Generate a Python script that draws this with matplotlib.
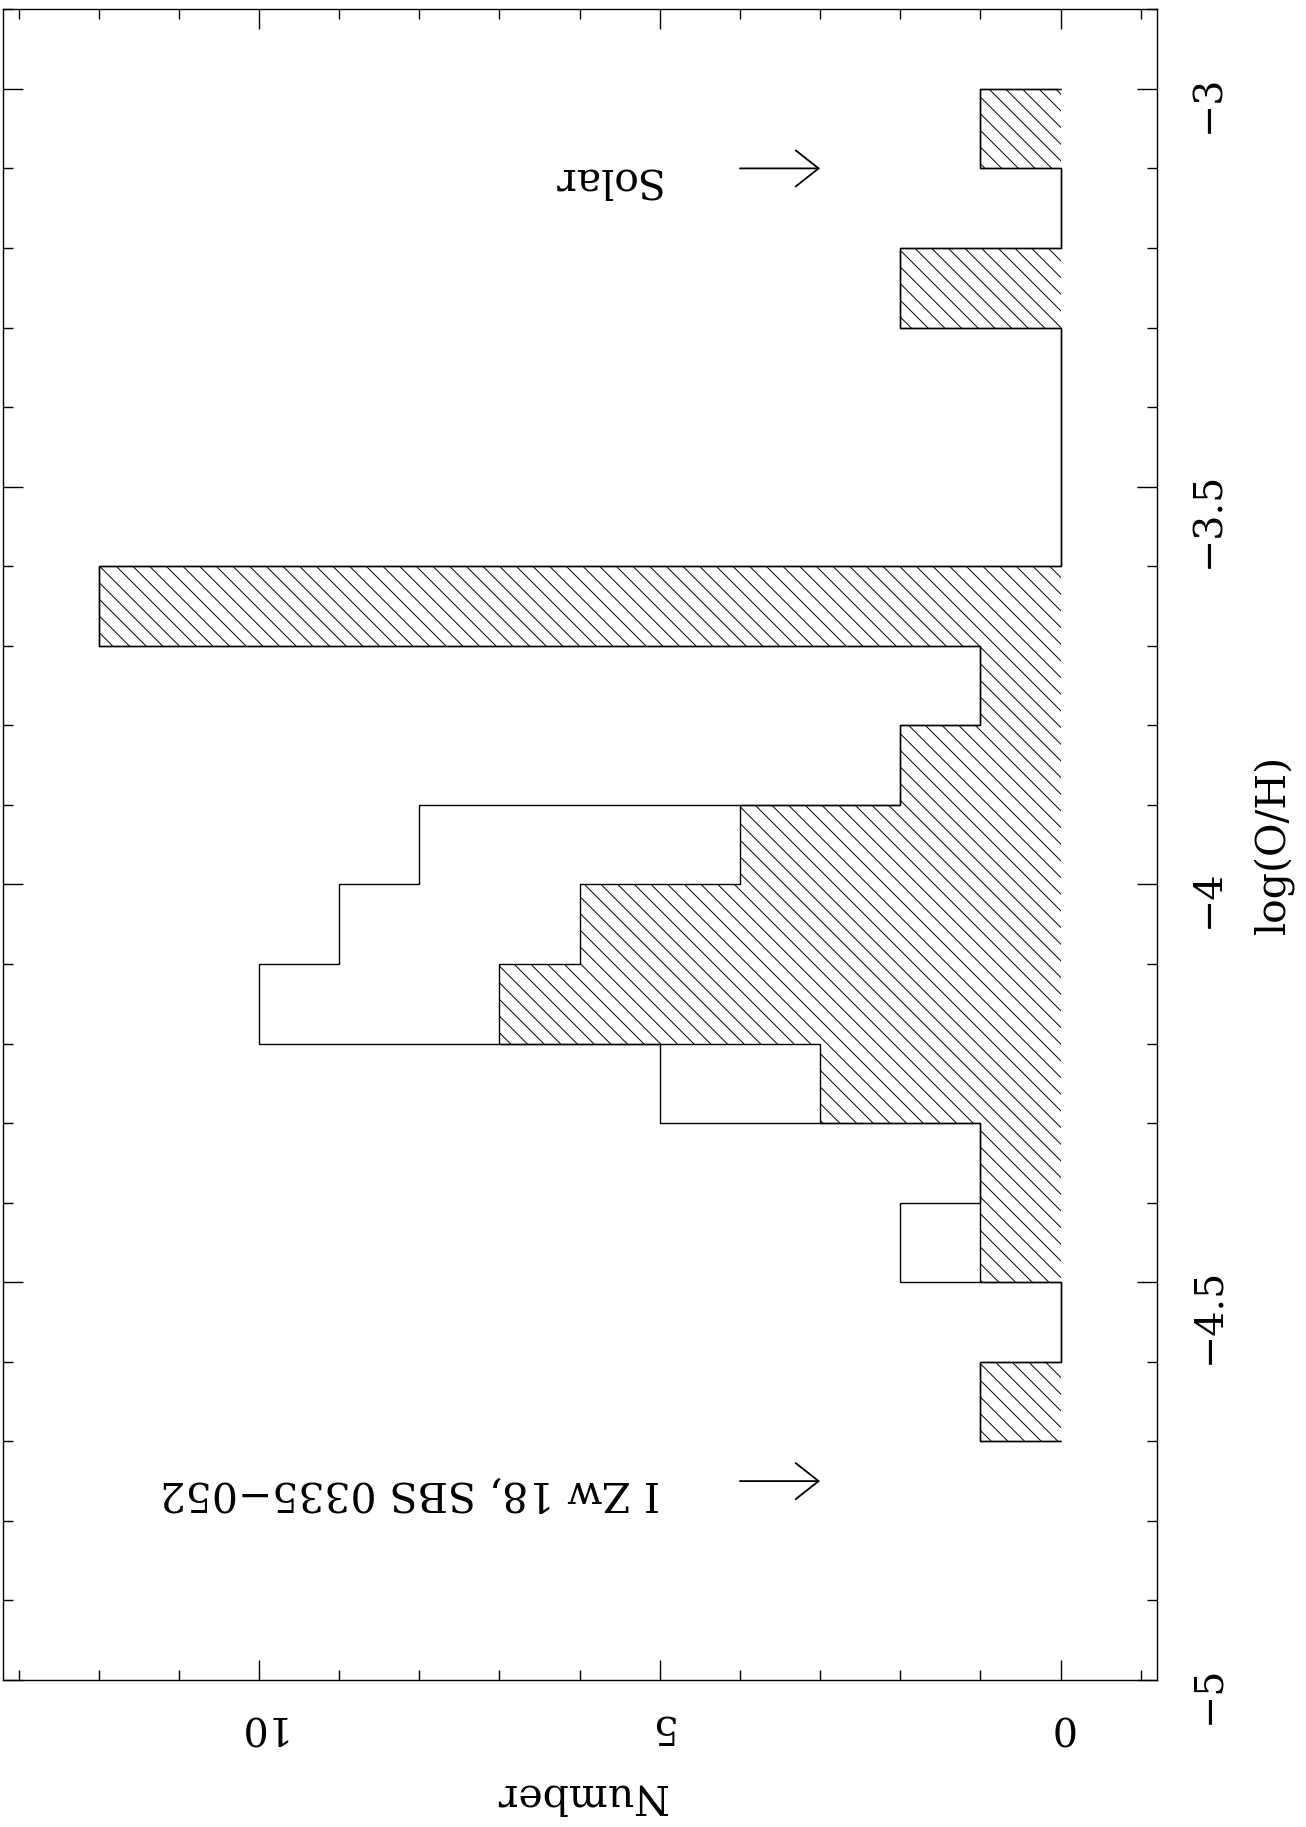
import numpy as np
import matplotlib.pyplot as plt

# histogram bins in log(O/H), 0.1 dex wide, from -4.7 to -3.0
bin_edges = np.linspace(-4.7, -3.0, 18)
# hatched sample
counts_hatched = [1, 0, 1, 1, 3, 7, 6, 4, 2, 1, 12, 0, 0, 0, 2, 0, 1]
# open histogram (full sample)
counts_total = [1, 0, 2, 1, 5, 10, 9, 8, 2, 1, 12, 0, 0, 0, 2, 0, 1]

# arrows marking reference abundances
marker_labels = ['I Zw 18, SBS 0335\u2212052', 'Solar']
marker_logoh = [-4.75, -3.1]

xticks_major = [0, 5, 10]
yticks_major = [-5, -4.5, -4, -3.5, -3]
ytick_labels = ['\u22125', '\u22124.5', '\u22124', '\u22123.5', '\u22123']

plt.rcParams['font.family'] = ['DejaVu Serif']
plt.rcParams['hatch.linewidth'] = 0.7
plt.rcParams['hatch.color'] = 'black'

W, H = 1306, 1827
fig = plt.figure(figsize=(W / 100, H / 100), dpi=100)
ax = fig.add_axes([3.3 / W, 1 - 1680 / H, (1156.7 - 3.3) / W, (1680 - 9.3) / H])

fs = 28.5
lw = 1.0

# hatched histogram: fill with hatch, then outline
ax.stairs(counts_hatched, bin_edges, orientation='horizontal', baseline=0,
          fill=True, facecolor='none', edgecolor='black', hatch='\\\\', linewidth=0)
ax.stairs(counts_hatched, bin_edges, orientation='horizontal', baseline=0,
          color='black', linewidth=lw)
ax.stairs(counts_total, bin_edges, orientation='horizontal', baseline=0,
          color='black', linewidth=lw)

# arrows + labels (drawn as in the original rotated landscape plot)
for label, y in zip(marker_labels, marker_logoh):
    ax.annotate('', xy=(3, y), xytext=(4, y),
                arrowprops=dict(arrowstyle='->,head_length=1.65,head_width=1.3',
                                color='black', lw=1.3, shrinkA=0, shrinkB=0,
                                mutation_scale=10))
    ax.text(5, y, label, rotation=180, rotation_mode='anchor',
            ha='left', va='baseline', fontsize=fs + 1)

ax.set_xlim(13.19, -1.2)
ax.set_ylim(-5, -2.9)

ax.set_xticks(xticks_major)
ax.set_xticklabels([str(t) for t in xticks_major])
ax.set_xticks(np.arange(-1, 14), minor=True)
ax.set_yticks(yticks_major)
ax.set_yticklabels(ytick_labels)
ax.set_yticks(np.linspace(-5, -2.9, 22), minor=True)

ax.tick_params(axis='both', which='both', direction='in', top=True, bottom=True,
               left=True, right=True, labelleft=False, labelright=True,
               labelbottom=True, labeltop=False, width=lw, labelsize=fs)
ax.tick_params(axis='both', which='major', length=14.4)
ax.tick_params(axis='both', which='minor', length=7.2)
ax.tick_params(axis='x', labelrotation=180, pad=20)
ax.tick_params(axis='y', labelrotation=90, pad=24)

for s in ax.spines.values():
    s.set_linewidth(lw)

ax.text(0.5, (1680 - 1795) / (1680 - 9.3), 'Number', transform=ax.transAxes,
        rotation=180, ha='center', va='center', fontsize=fs + 1)
ax.text((1273 - 3.3) / (1156.7 - 3.3), 0.5, 'log(O/H)', transform=ax.transAxes,
        rotation=90, ha='center', va='center', fontsize=fs + 1)

fig.savefig('out.png', dpi=100)
